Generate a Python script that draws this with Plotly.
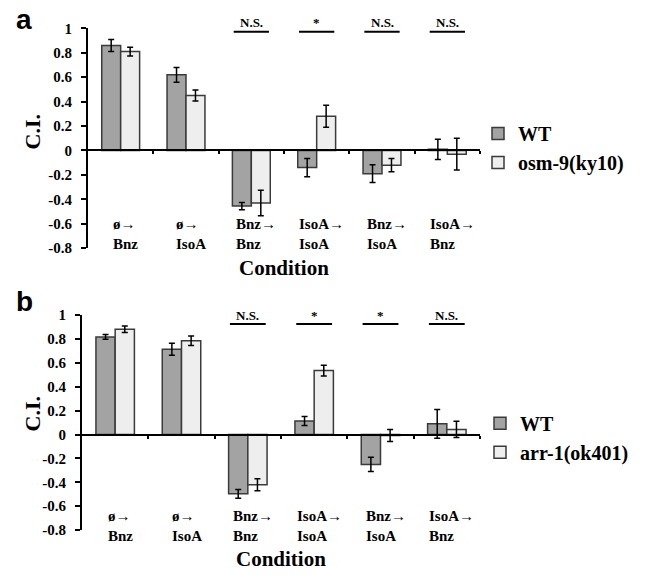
import plotly.graph_objects as go

# ---------------- data ----------------
conditions = ["ø→<br>Bnz", "ø→<br>IsoA", "Bnz→<br>Bnz", "IsoA→<br>IsoA", "Bnz→<br>IsoA", "IsoA→<br>Bnz"]
y_tickvals = [1, 0.8, 0.6, 0.4, 0.2, 0, -0.2, -0.4, -0.6, -0.8]
y_ticktext = ["1", "0.8", "0.6", "0.4", "0.2", "0", "-0.2", "-0.4", "-0.6", "-0.8"]

# panel a : WT vs osm-9(ky10)
a_wt = [0.86, 0.62, -0.455, -0.14, -0.19, 0.01]
a_wt_err = [0.05, 0.06, 0.03, 0.075, 0.073, 0.083]
a_mut = [0.81, 0.45, -0.43, 0.28, -0.12, -0.03]
a_mut_err = [0.035, 0.045, 0.105, 0.09, 0.055, 0.13]
a_sig = ["", "", "N.S.", "*", "N.S.", "N.S."]
a_mut_name = "osm-9(ky10)"

# panel b : WT vs arr-1(ok401)
b_wt = [0.818, 0.715, -0.496, 0.114, -0.25, 0.09]
b_wt_err = [0.02, 0.05, 0.037, 0.037, 0.06, 0.12]
b_mut = [0.883, 0.786, -0.42, 0.537, -0.008, 0.043]
b_mut_err = [0.027, 0.04, 0.05, 0.045, 0.05, 0.068]
b_sig = ["", "", "N.S.", "*", "*", "N.S."]
b_mut_name = "arr-1(ok401)"

# ---------------- style ----------------
SERIF = "Liberation Serif"
SANS = "Liberation Sans"
WT_COLOR = "#a3a3a3"
MUT_COLOR = "#eeeeee"
EDGE = "#3a3a3a"
W, H = 652, 577

xs = list(range(len(conditions)))

fig = go.Figure()

def add_panel(wt, wt_err, mut, mut_err, mut_name, xa, ya, leg):
    fig.add_trace(go.Bar(
        x=xs, y=wt, name="WT", xaxis=xa, yaxis=ya, legend=leg,
        legendgroup=leg + "wt",
        marker=dict(color=WT_COLOR, line=dict(color=EDGE, width=1.5)),
        error_y=dict(type="data", array=wt_err, color="black", thickness=1.5, width=3),
    ))
    fig.add_trace(go.Bar(
        x=xs, y=mut, name=mut_name, xaxis=xa, yaxis=ya, legend=leg,
        legendgroup=leg + "mut",
        marker=dict(color=MUT_COLOR, line=dict(color=EDGE, width=1.5)),
        error_y=dict(type="data", array=mut_err, color="black", thickness=1.5, width=3),
    ))

add_panel(a_wt, a_wt_err, a_mut, a_mut_err, a_mut_name, "x", "y", "legend")
add_panel(b_wt, b_wt_err, b_mut, b_mut_err, b_mut_name, "x2", "y2", "legend2")

# domains (paper fractions)
a_dom_x = [88 / W, 480 / W]
a_dom_y = [1 - 247 / H, 1 - 21 / H]
b_dom_x = [82 / W, 480 / W]
b_dom_y = [1 - 537 / H, 1 - 316 / H]
ymin, ymax = -0.8, 1.0

def frac(v):
    return (v - ymin) / (ymax - ymin)

def zero_pos(dom):
    return dom[0] + (dom[1] - dom[0]) * frac(0)

tick_font = dict(family=SERIF, size=15, color="black", weight="bold")

def xaxis_cfg(dom, ydom):
    return dict(
        domain=dom, range=[-0.5, len(conditions) - 0.5], anchor="free",
        position=zero_pos(ydom),
        showline=True, linecolor="black", linewidth=2,
        ticks="outside", ticklen=3, tickwidth=1.5, tickcolor="black",
        tickvals=[i + 0.5 for i in xs], showticklabels=False,
        showgrid=False, zeroline=False,
    )

def yaxis_cfg(dom, anchor_x):
    return dict(
        domain=dom, range=[ymin, ymax], anchor=anchor_x,
        showline=True, linecolor="black", linewidth=2,
        ticks="outside", ticklen=5, tickwidth=1.5, tickcolor="black",
        tickvals=y_tickvals, ticktext=y_ticktext, tickfont=tick_font,
        showgrid=False, zeroline=False, ticklabelstandoff=6,
    )

legend_font = dict(family=SERIF, size=20, color="black", weight="bold")

fig.update_layout(
    width=W, height=H, margin=dict(l=0, r=0, t=0, b=0),
    paper_bgcolor="white", plot_bgcolor="rgba(0,0,0,0)",
    barmode="group", bargap=0.42, bargroupgap=0,
    xaxis=xaxis_cfg(a_dom_x, a_dom_y),
    yaxis=yaxis_cfg(a_dom_y, "x"),
    xaxis2=xaxis_cfg(b_dom_x, b_dom_y),
    yaxis2=yaxis_cfg(b_dom_y, "x2"),
    legend=dict(x=478 / W, y=1 - 144 / H, xanchor="left", yanchor="middle",
                font=legend_font, traceorder="grouped", tracegroupgap=0,
                bgcolor="rgba(0,0,0,0)"),
    legend2=dict(x=480 / W, y=1 - 442 / H, xanchor="left", yanchor="middle",
                 font=legend_font, traceorder="grouped", tracegroupgap=0,
                 bgcolor="rgba(0,0,0,0)"),
    showlegend=True,
)

annotations = []
shapes = []

def panel_text(sig, xa, ya, cond_y, line_y, text_y):
    for i, c in enumerate(conditions):
        annotations.append(dict(
            x=xs[i], y=frac(cond_y), xref=xa, yref=ya + " domain", text=c, showarrow=False,
            align="left", xanchor="center", yanchor="middle", xshift=5,
            font=dict(family=SERIF, size=15, color="black", weight="bold"),
        ))
    for i, s in enumerate(sig):
        if not s:
            continue
        shapes.append(dict(type="line", xref=xa, yref=ya,
                           x0=xs[i] - 0.27, x1=xs[i] + 0.27, y0=line_y, y1=line_y,
                           line=dict(color="black", width=2)))
        annotations.append(dict(
            x=xs[i], y=frac(text_y), xref=xa, yref=ya + " domain", text=s, showarrow=False,
            xanchor="center", yanchor="middle",
            font=dict(family=SERIF, size=13, color="black", weight="bold"),
        ))

panel_text(a_sig, "x", "y", -0.685, 0.972, 1.05)
panel_text(b_sig, "x2", "y2", -0.765, 0.927, 0.995)

for (lbl, lx, ly, cx, cy, tx, ty) in [
    ("a", 24, 12, 32, 128, 284, 267),
    ("b", 24, 302, 32, 418, 281, 567),
]:
    annotations.append(dict(x=lx / W, y=1 - ly / H, xref="paper", yref="paper", text=lbl,
                            showarrow=False, xanchor="center", yanchor="middle",
                            font=dict(family=SANS, size=28, color="black", weight="bold")))
    annotations.append(dict(x=cx / W, y=1 - cy / H, xref="paper", yref="paper", text="C.I.",
                            showarrow=False, textangle=-90, xanchor="center", yanchor="middle",
                            font=dict(family=SERIF, size=22, color="black", weight="bold")))
    annotations.append(dict(x=tx / W, y=1 - ty / H, xref="paper", yref="paper", text="Condition",
                            showarrow=False, xanchor="center", yanchor="middle",
                            font=dict(family=SERIF, size=21, color="black", weight="bold")))

fig.update_layout(annotations=annotations, shapes=shapes)

fig.write_html("out.html")
